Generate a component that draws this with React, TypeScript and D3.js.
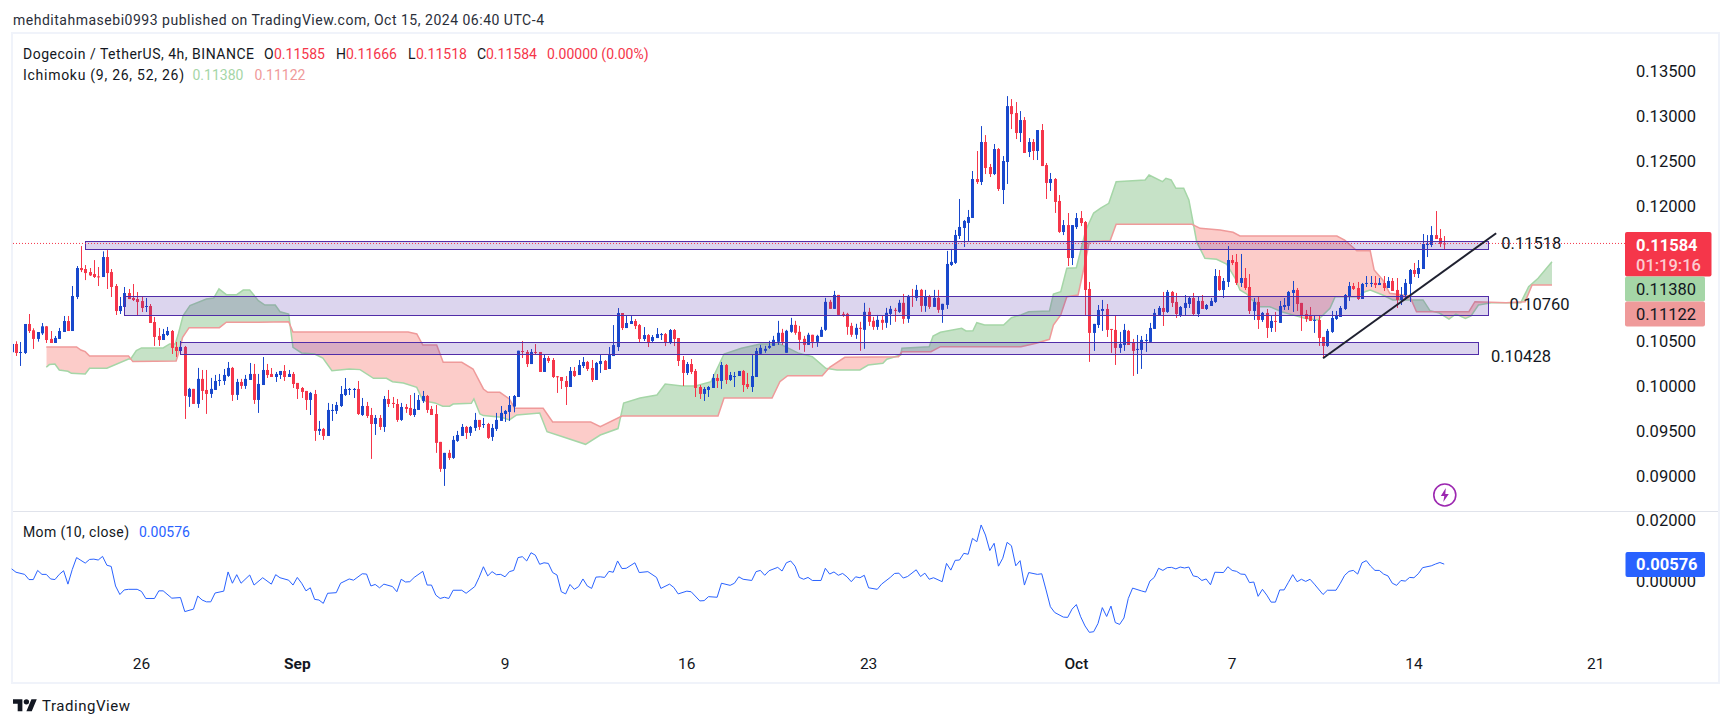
import React from "react";
import * as d3 from "d3";

// prices are stored in 1e-5 USDT, one entry per 4h candle
const opens = [
10375,10467,10371,10367,10689,10619,10523,10585,10663,10523,
10478,10523,10600,10722,10611,10989,11311,11300,11266,11244,
11218,11211,11433,11266,11111,10833,10878,11033,10978,10966,
10944,10881,10889,10711,10556,10511,10567,10611,10434,10389,
10434,9879,9968,9801,10079,9956,9912,9956,10056,10056,
10112,10201,9901,10045,10001,10067,10134,9845,10011,10178,
10134,10100,10122,10167,10100,10134,10034,9978,9945,9845,
9911,9501,9523,9445,9723,9723,9778,9900,9960,9960,
9967,9678,9778,9678,9578,9645,9545,9856,9812,9800,
9623,9767,9756,9678,9734,9834,9889,9745,9689,9379,
9079,9257,9201,9390,9445,9545,9479,9534,9623,9567,
9578,9434,9523,9612,9689,9712,9771,9878,10389,10378,
10244,10378,10378,10156,10311,10289,10108,10100,10056,9989,
10167,10122,10222,10267,10200,10067,10244,10278,10189,10333,
10433,10811,10644,10689,10722,10677,10522,10566,10500,10533,
10570,10577,10478,10622,10533,10289,10145,10244,10167,9989,
9912,9956,9978,10089,10056,10233,10067,10104,10111,10167,
10022,9989,10100,10358,10391,10424,10446,10491,10591,10369,
10602,10679,10602,10524,10457,10569,10491,10546,10624,10935,
10857,11012,10801,10801,10668,10569,10646,10624,10824,10724,
10657,10735,10702,10801,10846,10824,10924,10746,11001,10979,
11068,10890,10990,10879,10979,10846,10901,11345,11368,11667,
11756,11812,11867,12300,12267,12711,12433,12355,12633,12178,
12489,13110,13033,12811,12955,12600,12711,12611,12844,12455,
12256,12300,12056,11711,11788,11422,11766,11866,11822,11078,
10590,10678,10834,10856,10634,10623,10423,10456,10612,10479,
10405,10401,10501,10490,10634,10789,10867,10823,11045,10934,
10789,10867,10911,10978,10800,10945,10856,10889,10934,11222,
11067,11156,11400,11378,11145,11200,11100,10834,10934,10734,
10812,10645,10723,10701,10878,10889,11034,11067,10923,10800,
10789,10723,10734,10545,10445,10601,10745,10767,10856,10989,
11111,11089,10967,11134,11134,11145,11122,11145,11089,11167,
11067,10956,11011,11134,11289,11245,11300,11567,11567,11677,
11644,11585];
const highs = [
10485,10497,10489,10689,10800,10641,10600,10700,10667,10611,
10556,10645,10778,10778,11111,11333,11555,11344,11311,11399,
11322,11496,11510,11300,11133,10989,11100,11078,11133,11044,
11000,10978,10911,10767,10645,10634,10656,10622,10489,10500,
10445,9979,9968,10201,10178,10178,10090,10123,10134,10189,
10267,10212,10079,10079,10123,10256,10245,10134,10322,10245,
10200,10156,10167,10233,10178,10156,10034,9989,9945,9934,
9956,9612,9534,9812,9800,9823,10000,10089,9978,9978,
10056,9867,9823,9756,9678,9678,9889,9956,9878,9856,
9812,9800,9900,9923,9900,9945,9900,9778,9789,9379,
9257,9290,9445,9501,9578,9556,9556,9701,9623,9645,
9590,9578,9701,9778,9734,9889,9900,10392,10500,10400,
10411,10466,10378,10355,10333,10311,10111,10100,10111,10211,
10211,10289,10322,10278,10289,10267,10344,10289,10433,10677,
10866,10811,10788,10777,10744,10689,10655,10577,10566,10644,
10589,10589,10633,10633,10533,10333,10267,10300,10189,10011,
9989,10000,10133,10133,10267,10244,10156,10156,10167,10178,
10145,10344,10422,10457,10446,10502,10557,10724,10635,10624,
10757,10724,10668,10557,10591,10569,10569,10657,10979,10957,
11057,11012,10824,10813,10702,10691,10713,10924,10868,10768,
10790,10779,10868,10890,10868,10957,11023,11012,11079,11123,
11079,11068,11012,11068,11068,10913,11501,11523,11734,12078,
11845,11956,12389,12611,12888,12788,12467,12689,12644,12555,
13221,13188,13155,13055,12988,12755,12744,12844,12911,12478,
12367,12311,12122,11844,11922,11788,11922,11944,11833,11156,
10690,10900,10956,10911,10634,10778,10601,10690,10623,10523,
10567,10556,10578,10701,10856,10889,11045,11067,11056,11034,
10889,11011,11000,11034,11000,11011,10911,10978,11300,11289,
11200,11555,11455,11467,11467,11311,11244,10978,10989,10823,
10856,10778,10823,10945,10978,11056,11167,11089,10923,10845,
10878,10789,10789,10545,10634,10834,10834,10889,11022,11156,
11145,11156,11145,11222,11222,11222,11200,11222,11211,11200,
11200,11100,11189,11300,11367,11400,11689,11677,11777,11944,
11744,11666];
const lows = [
10356,10334,10223,10356,10589,10412,10493,10567,10478,10478,
10478,10523,10600,10611,10611,10966,11266,11177,11222,11200,
11111,11211,11078,10989,10789,10800,10878,10966,10944,10789,
10822,10822,10700,10445,10445,10511,10556,10356,10323,10345,
9634,9768,9801,9757,9845,9690,9868,9956,10001,10012,
10101,9834,9845,9968,9968,10067,9801,9701,10011,10089,
10100,10045,10078,10056,10100,9978,9856,9867,9734,9678,
9390,9456,9401,9445,9612,9689,9767,9889,9900,9867,
9678,9667,9645,9190,9456,9512,9490,9767,9756,9601,
9612,9701,9667,9656,9734,9812,9701,9678,9257,9046,
8890,9179,9190,9379,9445,9412,9445,9501,9512,9534,
9412,9390,9501,9612,9601,9612,9708,9878,10311,10211,
10244,10355,10156,10156,10256,10089,9923,9967,9789,9989,
10100,10122,10200,10167,10045,10067,10145,10178,10189,10333,
10389,10622,10644,10689,10633,10489,10500,10433,10489,10533,
10511,10444,10466,10444,10222,10000,10122,10133,9878,9856,
9834,9878,9978,9978,9967,10022,10056,9989,10111,9934,
9967,9934,10100,10346,10369,10413,10446,10457,10457,10369,
10591,10569,10402,10380,10457,10424,10435,10546,10613,10857,
10857,10790,10768,10569,10546,10524,10391,10413,10668,10624,
10624,10624,10646,10679,10713,10813,10691,10702,10879,10946,
10824,10824,10857,10879,10813,10702,10857,11334,11356,11634,
11545,11601,11867,12245,12233,12355,12322,12344,12167,12022,
12245,12855,12744,12711,12589,12544,12511,12511,12444,12078,
12167,11923,11701,11677,11333,11344,11744,11777,10789,10268,
10390,10645,10612,10545,10368,10234,10368,10390,10456,10112,
10134,10190,10379,10479,10634,10789,10667,10812,10878,10756,
10767,10789,10867,10789,10767,10856,10845,10889,10923,11056,
10978,11100,11344,11122,11100,11067,10800,10734,10634,10712,
10534,10601,10601,10701,10845,10845,10823,10834,10612,10712,
10723,10590,10445,10319,10434,10590,10734,10767,10845,10945,
11067,10956,10967,11100,11100,11089,11122,11056,11089,11056,
10867,10900,10956,10934,11211,11200,11300,11433,11544,11633,
11544,11518];
const closes = [
10467,10367,10378,10689,10611,10523,10600,10663,10511,10478,
10534,10611,10722,10611,11000,11311,11288,11255,11229,11211,
11211,11433,11255,11100,10833,10889,11033,10966,10955,10933,
10867,10889,10700,10545,10511,10578,10611,10423,10389,10434,
9890,9968,9801,10079,9945,9912,9968,10056,10067,10123,
10201,9901,10045,10001,10079,10134,9845,10023,10178,10122,
10100,10134,10167,10100,10134,10022,9967,9934,9845,9923,
9501,9523,9445,9734,9734,9789,9911,9967,9967,9967,
9689,9778,9667,9578,9645,9545,9856,9800,9800,9623,
9767,9745,9678,9745,9845,9889,9734,9678,9368,9079,
9257,9201,9401,9456,9545,9479,9545,9623,9545,9578,
9423,9534,9623,9701,9723,9789,9889,10392,10378,10244,
10378,10367,10156,10311,10278,10100,10104,10056,9989,10167,
10111,10233,10267,10189,10067,10256,10278,10178,10344,10455,
10811,10644,10700,10722,10666,10522,10566,10489,10544,10577,
10577,10478,10622,10522,10278,10145,10244,10156,9978,9912,
9967,9989,10089,10056,10233,10067,10122,10111,10167,10011,
9989,10111,10389,10424,10413,10446,10513,10591,10491,10613,
10679,10591,10513,10457,10569,10491,10557,10624,10935,10857,
11012,10790,10790,10657,10569,10646,10639,10824,10713,10657,
10735,10702,10813,10857,10839,10924,10746,11001,10994,11068,
10890,10990,10879,10979,10846,10913,11356,11379,11678,11767,
11834,11878,12300,12267,12711,12422,12355,12633,12189,12500,
13110,13021,12811,12955,12589,12711,12611,12844,12444,12256,
12300,12045,11712,11788,11422,11788,11866,11811,11067,10590,
10690,10845,10856,10623,10627,10423,10467,10623,10456,10390,
10412,10512,10512,10645,10812,10867,10823,11045,10923,10800,
10878,10923,10978,10800,10945,10856,10900,10945,11222,11067,
11167,11400,11367,11145,11200,11089,10834,10934,10734,10812,
10645,10723,10715,10889,10900,11045,11067,10911,10789,10745,
10723,10734,10534,10445,10612,10756,10778,10867,11011,11111,
11078,10967,11134,11145,11145,11122,11145,11089,11167,11056,
10956,11011,11145,11289,11245,11311,11578,11578,11677,11633,
11578,11584];

// Ichimoku leading spans: candle index (may run past the last candle) and price
const spanAIdx = [8,8.7,10,11,13,13.8,17,18,22,27,27.5,28.8,30,35,36.5,37.8,38.5,39.6,41.2,45,46.7,47.9,49.6,52,53.5,55,57,58.5,60.9,62,64,65,67,70,71.9,74,78,80.5,83.6,86.6,88,90.5,93.6,95,97.8,99.6,101.2,102,106.2,106.8,108.2,109,113.2,115,116.7,122,123.7,127.3,132.6,136,140.1,141.4,145.2,149.1,151,154.9,158,161.6,164.6,168.6,173,177.5,181.9,185,188.1,190.7,196,197.9,201.3,202.2,205.4,205.7,212,212.9,214.6,219.5,220.5,222.1,223,224.8,229.2,231,233.2,235,239.8,240.7,242.4,243.8,246,248.2,250,251.7,253.5,255.2,261.9,262.8,265.9,266.7,267.9,269,270.8,272,273,273.8,275.7,278.4,280.7,282.7,283.8,285.4,286.1,288.4,290.7,293.4,296.1,298.8,301.8,304.6,305.8,310.8,312.7,313.9,316.8,319.1,323.8,326.1,327.7,329.9,332.1,333.7,335.9,337.2,338.9,341.9,348.7,350.5,352.7,355.9];
const spanAVal = [10208,10238,10245,10178,10164,10141,10134,10197,10197,10300,10300,10393,10423,10423,10467,10467,10578,10781,10893,10966,10978,11078,11015,11015,11066,11066,10948,10899,10899,10825,10800,10430,10367,10355,10311,10170,10189,10182,10085,10085,10048,10034,9985,9837,9812,9775,9775,9800,9808,9856,9689,9671,9652,9623,9678,9700,9492,9437,9352,9455,9527,9811,9867,9900,10022,10000,10000,10048,10355,10419,10467,10467,10363,10326,10197,10178,10178,10233,10252,10297,10344,10419,10437,10556,10597,10641,10611,10614,10703,10678,10678,10759,10789,10825,10833,11022,11048,11308,11314,11733,11922,11978,12030,12270,12289,12344,12270,12308,12289,12197,12197,12067,11811,11603,11419,11408,11356,11197,11067,11022,10978,10881,10881,10825,10789,10752,10733,10863,10992,10992,11048,11067,11011,10956,10956,10956,10837,10811,10744,10800,10752,10778,10900,10926,10926,11103,11197,11380];
const spanBIdx = [8,15,16,17,18,27,28,38,38.5,39.5,41,48,49.6,57,64,65,91.6,93.6,95,98.2,99.7,104,106.6,109,110,112.8,115,116.2,122.8,125,133.8,136,141,163.2,164.6,175.7,177.5,179.3,187.3,189,192.5,204.9,205.7,212.4,214.6,233.2,236.7,239.8,240.7,242.4,243.8,246.4,248,249,253.8,255.2,272.7,274.6,279.2,282.2,283.8,306.2,308,310.8,313.9,314.8,316.8,318.4,323,324.6,336.7,338.1,345.3,349.7,351.3,355.9];
const spanBVal = [10434,10434,10400,10382,10334,10334,10271,10278,10356,10541,10648,10648,10708,10708,10714,10600,10600,10578,10455,10455,10263,10263,10189,9967,9930,9930,9856,9752,9752,9600,9600,9548,9667,9667,9867,9867,10048,10114,10114,10208,10319,10326,10381,10381,10437,10437,10474,10519,10678,10789,10992,11011,11367,11603,11614,11797,11797,11752,11733,11708,11667,11667,11622,11503,11503,11289,11178,11030,11000,10825,10825,10937,10925,10937,11122,11122];

// Momentum (10, close), in 1e-4 USDT
const momIdx = [0,1,3,4,5,6,7,8,9,10,11,12,13,14,15,16,17,18,19,20,21,22,23,24,25,26,27,29,30,31,33,34,35,37,39,40,42,43,44,45,46,47,49,50,51,52,53,55,56,58,60,61,62,64,65,66,67,68,69,70,71,72,73,75,76,78,79,81,82,83,84,85,86,88,89,90,91,92,93,95,96,97,98,99,100,101,102,104,105,107,108,109,110,111,112,113,114,115,116,117,118,119,120,121,122,123,124,125,126,127,128,129,130,131,132,133,134,135,136,137,138,139,140,141,142,144,145,147,149,150,152,153,154,156,157,159,160,161,163,164,166,167,168,169,171,172,173,174,175,177,178,179,180,181,182,183,184,185,187,188,189,190,191,192,193,194,195,196,197,198,200,201,203,204,205,206,207,209,210,211,212,213,215,216,217,218,219,220,221,222,223,224,225,226,227,228,229,230,231,232,233,234,235,237,238,239,240,241,243,244,245,246,247,248,249,250,251,252,253,254,255,256,257,258,259,261,262,263,264,265,266,267,268,269,270,271,272,273,274,275,276,277,278,280,281,282,283,284,285,286,287,288,289,290,291,292,293,294,295,296,297,298,299,300,301,303,304,306,307,308,309,310,311,312,313,314,315,316,317,318,319,320,321,322,323,324,325,326,328,329,330,331];
const momVal = [42,31,24,7,7,37,24,24,9,7,24,36,-8,40,79,70,61,73,74,71,83,54,50,-14,-42,-27,-25,-25,-32,-55,-55,-30,-30,-54,-52,-98,-90,-47,-60,-66,-66,-37,-31,32,-5,23,-5,22,-11,13,-8,23,13,5,-11,14,-5,-30,-20,-58,-60,-71,-38,-36,-5,9,5,26,25,-14,-9,-20,-8,-16,-33,8,-1,0,14,34,-11,-11,-44,-55,-51,-55,-28,-28,-38,-16,14,49,19,33,23,24,16,33,37,79,82,68,95,87,57,62,60,30,22,-33,-40,-9,-25,-16,9,-14,-22,15,16,14,34,31,68,43,44,62,30,33,14,-22,-8,-19,-40,-31,-33,-63,-62,-49,-51,-5,-12,-5,16,8,4,33,37,21,36,47,35,62,68,51,14,8,14,4,4,44,25,32,21,27,16,0,16,13,21,-20,-25,-8,14,27,28,12,17,39,17,28,8,13,0,60,38,70,71,93,90,142,131,186,153,102,126,51,77,129,118,52,69,-11,30,24,26,-27,-82,-101,-116,-117,-90,-75,-115,-145,-166,-164,-137,-85,-114,-80,-134,-140,-119,-55,-21,-30,-34,2,14,44,37,46,47,42,48,45,48,19,16,4,9,-10,31,30,49,37,34,25,24,-3,-1,-48,-25,-44,-67,-67,-27,-27,-2,23,0,8,1,8,-8,-42,-28,-28,-5,21,34,37,25,62,69,51,37,37,25,19,-5,-12,4,2,14,13,26,46,52,58,63,57.6];

// axes and annotations
const priceTicks = [0.135, 0.13, 0.125, 0.12, 0.105, 0.1, 0.095, 0.09];
const momTicks = [0.02, 0];
const dateTickIdx = [30, 66, 114, 156, 198, 246, 282, 324, 366];
const dateTickLabels = ["26", "Sep", "9", "16", "23", "Oct", "7", "14", "21"];
const zoneStartIdx = [17, 26, 38.9];
const zoneEndIdx = [341, 341, 338.9];
const zoneTop = [0.11608, 0.10997, 0.10486];
const zoneBottom = [0.11519, 0.10786, 0.10352];
const zoneLabels = ["0.11518", "0.10760", "0.10428"];
const zoneLabelIdx = [344.2, 346.1, 341.8];
const zoneLabelPrice = [0.11584, 0.10905, 0.10333];
const trendIdx = [303, 343];
const trendPrice = [0.10308, 0.11697];
const lastPrice = 0.11584;

const W = 1732, H = 728;
const RED = "#F5364A", BLUE = "#1848CC", INK = "#131722";
const FONT = "Roboto, sans-serif";

const x = d3.scaleLinear().domain([0, 366]).range([11.67, 1595.7]);
const y = d3.scaleLinear().domain([0.09, 0.135]).range([476, 71]);
const yM = d3.scaleLinear().domain([0, 0.02]).range([581.7, 520.7]);
const P = (v: number) => y(v / 1e5);
const snap = (v: number) => Math.round(v) + 0.5;

const lineGen = d3.line<[number, number]>();
const ptsA = spanAIdx.map((d, i) => [x(d), P(spanAVal[i])] as [number, number]);
const ptsB = spanBIdx.map((d, i) => [x(d), P(spanBVal[i])] as [number, number]);
const cloudPath = lineGen([...ptsA, ...[...ptsB].reverse()]) + "Z";
const xa = ptsB[0][0], xb = ptsB[ptsB.length - 1][0];
const aboveB = lineGen([...ptsB, [xb, 0], [xa, 0]]) + "Z";
const belowB = lineGen([...ptsB, [xb, 600], [xa, 600]]) + "Z";
const momPath = d3.line<number>().x((_, i) => x(momIdx[i])).y((d) => yM(d / 1e4))(momVal) as string;

const T = (p: any) => <text fontFamily={FONT} fill={INK} dominantBaseline="central" {...p} />;

export default function App() {
  return (
    <svg width={W} height={H} viewBox={`0 0 ${W} ${H}`} style={{ position: "absolute", left: 0, top: 0, display: "block", background: "#fff" }}>
      <defs>
        <clipPath id="pane"><rect x={13} y={34} width={1705} height={477} /></clipPath>
        <clipPath id="above"><path d={aboveB} /></clipPath>
        <clipPath id="below"><path d={belowB} /></clipPath>
      </defs>
      <rect x={12} y={33} width={1707} height={650} fill="#fff" stroke="#F0F3FA" strokeWidth={2} />
      <line x1={13} x2={1718} y1={511.5} y2={511.5} stroke="#E0E3EB" />
      <T x={13} y={19.5} fontSize={14} fill="#2A2E39" textLength={531}>mehditahmasebi0993 published on TradingView.com, Oct 15, 2024 06:40 UTC-4</T>

      <g clipPath="url(#pane)">
        <path d={cloudPath} clipPath="url(#above)" fill="#43A047" fillOpacity={0.3} />
        <path d={cloudPath} clipPath="url(#below)" fill="#F44336" fillOpacity={0.27} />
        <path d={lineGen(ptsA) as string} fill="none" stroke="#A5D6A7" strokeWidth={1.5} />
        <path d={lineGen(ptsB) as string} fill="none" stroke="#EF9A9A" strokeWidth={1.5} />
        {opens.map((o, i) => {
          const c = closes[i];
          const col = c >= o ? BLUE : RED;
          const cx = Math.round(x(i));
          const top = P(Math.max(o, c)), bot = P(Math.min(o, c));
          return (
            <g key={i} fill={col}>
              <rect x={cx} y={P(highs[i])} width={1} height={Math.max(1, P(lows[i]) - P(highs[i]))} />
              <rect x={cx - 1} y={top} width={3} height={Math.max(1, bot - top)} />
            </g>
          );
        })}
        {zoneTop.map((t, i) => {
          const x0 = snap(x(zoneStartIdx[i])), x1 = snap(x(zoneEndIdx[i]));
          const y0 = snap(y(t)), y1 = snap(y(zoneBottom[i]));
          return <rect key={i} x={x0} y={y0} width={x1 - x0} height={y1 - y0} fill="#512DA8" fillOpacity={0.2} stroke="#512DA8" />;
        })}
      </g>
      <line x1={13} x2={1625} y1={y(lastPrice)} y2={y(lastPrice)} stroke={RED} strokeDasharray="1 2" />
      <line x1={x(trendIdx[0])} y1={y(trendPrice[0])} x2={x(trendIdx[1])} y2={y(trendPrice[1])} stroke="#1F2130" strokeWidth={2} />
      {zoneLabels.map((s, i) => (
        <T key={s} x={x(zoneLabelIdx[i])} y={y(zoneLabelPrice[i])} fontSize={16.5}>{s}</T>
      ))}

      <T x={23} y={54} fontSize={14} textLength={231}>Dogecoin / TetherUS, 4h, BINANCE</T>
      <T x={264} y={54} fontSize={14}>O</T>
      <T x={274} y={54} fontSize={14} fill={RED}>0.11585</T>
      <T x={336} y={54} fontSize={14}>H</T>
      <T x={346} y={54} fontSize={14} fill={RED}>0.11666</T>
      <T x={408} y={54} fontSize={14}>L</T>
      <T x={416} y={54} fontSize={14} fill={RED}>0.11518</T>
      <T x={477} y={54} fontSize={14}>C</T>
      <T x={486} y={54} fontSize={14} fill={RED}>0.11584</T>
      <T x={547} y={54} fontSize={14} fill={RED}>0.00000 (0.00%)</T>
      <T x={23} y={75} fontSize={14} textLength={161}>Ichimoku (9, 26, 52, 26)</T>
      <T x={192.5} y={75} fontSize={14} fill="#A5D6A7">0.11380</T>
      <T x={254.5} y={75} fontSize={14} fill="#EF9A9A">0.11122</T>

      {priceTicks.map((t) => <T key={t} x={1636} y={y(t)} fontSize={16.5}>{t.toFixed(5)}</T>)}
      {momTicks.map((t) => <T key={t} x={1636} y={yM(t)} fontSize={16.5}>{t.toFixed(5)}</T>)}

      <rect x={1625} y={232} width={86.5} height={44.5} rx={2} fill={RED} />
      <T x={1636} y={245} fontSize={16.5} fontWeight={700} fill="#fff">0.11584</T>
      <T x={1636} y={265} fontSize={16.5} fontWeight={500} fill="#fff" fillOpacity={0.75}>01:19:16</T>
      <rect x={1625} y={276.5} width={80} height={25} rx={2} fill="#A5D6A7" />
      <T x={1636} y={289.5} fontSize={16.5}>0.11380</T>
      <rect x={1625} y={301.5} width={80} height={25} rx={2} fill="#EF9A9A" />
      <T x={1636} y={314.5} fontSize={16.5}>0.11122</T>

      <circle cx={1444.8} cy={495} r={11} fill="#fff" stroke="#9C27B0" strokeWidth={1.6} />
      <path d="M1,-7 L-4,1 L-0.5,1 L-1.5,7 L4,-1 L0.5,-1 Z" transform="translate(1444.8,495)" fill="#9C27B0" />

      <T x={23} y={532} fontSize={14} textLength={106}>Mom (10, close)</T>
      <T x={139} y={532} fontSize={14} fill="#2962FF">0.00576</T>
      <path d={momPath} fill="none" stroke="#2962FF" strokeWidth={1} />
      <rect x={1625.5} y={552} width={79.5} height={25} rx={2} fill="#2962FF" />
      <T x={1636} y={564.5} fontSize={16.5} fontWeight={700} fill="#fff">0.00576</T>

      {dateTickIdx.map((d, i) => (
        <T key={d} x={x(d)} y={664} fontSize={15.5} textAnchor="middle"
          fontWeight={dateTickLabels[i] === "Sep" ? 700 : dateTickLabels[i] === "Oct" ? 500 : 400}>{dateTickLabels[i]}</T>
      ))}

      <g transform="translate(13,696.5) scale(0.67)" fill={INK}>
        <path d="M14 22H7V11H0V4h14v18zM28 22h-8l7.5-18h8L28 22z" />
        <circle cx={20} cy={8} r={4} />
      </g>
      <T x={42} y={706} fontSize={15} textLength={88}>TradingView</T>
    </svg>
  );
}
